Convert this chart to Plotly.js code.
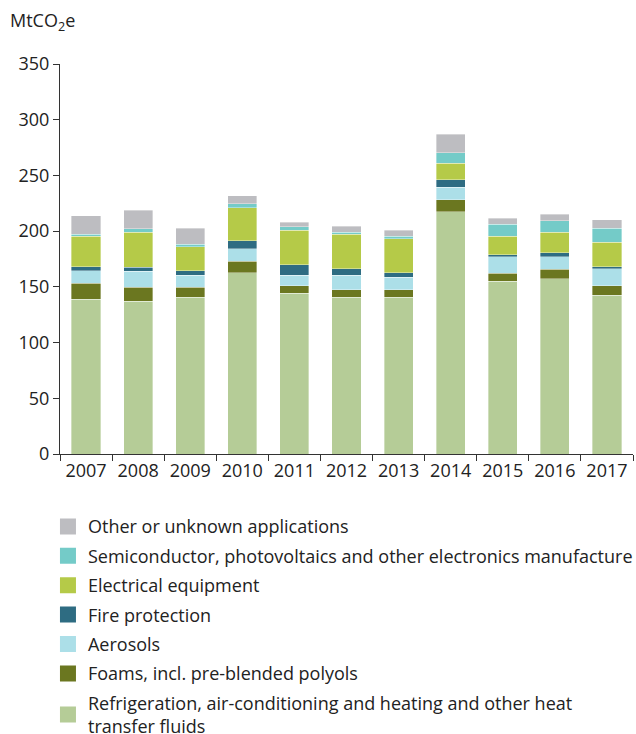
<!DOCTYPE html>
<html>
<head>
<meta charset="utf-8">
<script src="https://cdn.plot.ly/plotly-3.0.1.min.js"></script>
<style>html,body{margin:0;padding:0;background:#fff;}#chart{width:636px;height:734px;}</style>
</head>
<body>
<div id="chart"></div>
<script>
const years = ["2007","2008","2009","2010","2011","2012","2013","2014","2015","2016","2017"];
const refrigeration = [139, 137, 140.7, 162.5, 144.3, 140.7, 140.7, 217.2, 155.0, 157.1, 142.5];
const foams = [14.3, 12.5, 8.9, 10.7, 6.8, 6.8, 6.8, 10.8, 7.2, 8.7, 8.6];
const aerosols = [11.1, 14.7, 10.8, 11.1, 9.3, 12.9, 11.1, 11.3, 14.6, 11.3, 15.2];
const fireProtection = [3.6, 3.6, 3.9, 7.2, 9.3, 5.7, 3.9, 6.9, 1.8, 3.6, 1.6];
const electrical = [27.2, 31.1, 21.8, 29.3, 31.1, 31.1, 30.8, 14.7, 16.8, 18.3, 22.1];
const semiconductor = [2.1, 3.3, 2.1, 3.9, 3.2, 1.8, 2.1, 9.3, 10.8, 10.4, 12.6];
const other = [16.7, 16.7, 14.4, 7.2, 4.0, 5.4, 5.4, 16.8, 5.4, 5.7, 7.5];

const seriesNames = [
  "Refrigeration, air-conditioning and heating and other heat<br>transfer fluids",
  "Foams, incl. pre-blended polyols",
  "Aerosols",
  "Fire protection",
  "Electrical equipment",
  "Semiconductor, photovoltaics and other electronics manufacture",
  "Other or unknown applications"
];
const seriesValues = [refrigeration, foams, aerosols, fireProtection, electrical, semiconductor, other];
const seriesColors = ["#b5cc97", "#6b7720", "#acdfe8", "#2e6c82", "#b5ca48", "#74cbc8", "#bdbdc1"];

const barTraces = seriesValues.map((vals, i) => ({
  type: "bar",
  x: years,
  y: vals,
  name: seriesNames[i],
  showlegend: false,
  marker: {color: seriesColors[i], line: {color: "rgba(255,255,255,0.6)", width: 0.6}},
  hoverinfo: "x+y+name"
}));

// legend-only entries with larger square swatches
const legendTraces = seriesNames.map((nm, i) => ({
  type: "scatter",
  mode: "markers",
  x: [null],
  y: [null],
  name: nm,
  legendgroup: "g" + i,
  legendrank: 1000 - i,
  showlegend: true,
  marker: {symbol: "square", size: 16, color: seriesColors[i], line: {width: 0}},
  hoverinfo: "skip"
}));

const layout = {
  width: 636,
  height: 734,
  margin: {l: 60, r: 3, t: 64, b: 280, autoexpand: false},
  barmode: "stack",
  bargap: 0.44,
  paper_bgcolor: "#fff",
  plot_bgcolor: "#fff",
  font: {family: "Open Sans, sans-serif", color: "#222", size: 18},
  xaxis: {
    type: "category",
    categoryarray: years,
    automargin: false,
    showline: true,
    linecolor: "#333",
    linewidth: 1,
    ticks: "outside",
    tickson: "boundaries",
    ticklen: 6,
    tickcolor: "#333",
    tickfont: {size: 18, color: "#222"},
    showgrid: false,
    zeroline: false
  },
  yaxis: {
    range: [0, 350],
    dtick: 50,
    automargin: false,
    showline: true,
    linecolor: "#333",
    linewidth: 1,
    ticks: "outside",
    ticklen: 6,
    tickcolor: "#333",
    tickfont: {size: 18, color: "#222"},
    showgrid: false,
    zeroline: false
  },
  showlegend: true,
  legend: {
    orientation: "v",
    x: -0.021,
    xanchor: "left",
    y: -0.139,
    yanchor: "top",
    traceorder: "grouped",
    tracegroupgap: 3,
    itemsizing: "trace",
    font: {size: 18, color: "#222"},
    bgcolor: "rgba(0,0,0,0)"
  },
  annotations: [{
    text: "MtCO<sub>2</sub>e",
    xref: "paper", yref: "paper",
    x: -0.09, y: 1.11,
    xanchor: "left", yanchor: "middle",
    showarrow: false,
    font: {size: 18, color: "#222"}
  }]
};

Plotly.newPlot("chart", barTraces.concat(legendTraces), layout, {displayModeBar: false, staticPlot: true});
</script>
</body>
</html>
